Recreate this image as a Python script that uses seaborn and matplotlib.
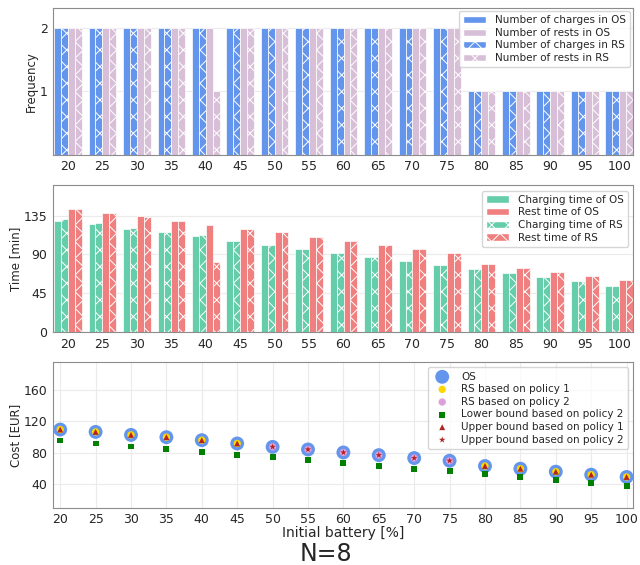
import matplotlib
matplotlib.use('Agg')
import matplotlib.pyplot as plt
from matplotlib.patches import Patch
import numpy as np
import pandas as pd
import seaborn as sns

battery = [20, 25, 30, 35, 40, 45, 50, 55, 60, 65, 70, 75, 80, 85, 90, 95, 100]

# frequency panel
charges_os = [2, 2, 2, 2, 2, 2, 2, 2, 2, 2, 2, 2, 1, 1, 1, 1, 1]
charges_rs = [2, 2, 2, 2, 2, 2, 2, 2, 2, 2, 2, 2, 1, 1, 1, 1, 1]
rests_os = [2, 2, 2, 2, 2, 2, 2, 2, 2, 2, 2, 2, 1, 1, 1, 1, 1]
rests_rs = [2, 2, 2, 2, 1, 2, 2, 2, 2, 2, 2, 2, 1, 1, 1, 1, 1]

# time panel [min]
charge_time_os = [129, 125, 120, 115.5, 111, 106, 101, 96.5, 92, 87, 82.5, 77.5, 73, 68.5, 64, 59, 54]
charge_time_rs = [130.5, 126, 121, 116.5, 112, 106, 101, 96.5, 92, 87, 82.5, 77.5, 73, 68.5, 64, 59, 54]
rest_time_os = [143, 138.5, 134, 129, 124.5, 120, 115.5, 110.5, 106, 101, 96.5, 92, 79.5, 74.5, 70, 65.5, 61]
rest_time_rs = [142.5, 138, 133.5, 128.5, 81, 120, 115.5, 110.5, 106, 101, 96.5, 92, 79.5, 74.5, 70, 65.5, 61]

# cost panel [EUR]
cost_os = [109.5, 106.5, 102.7, 99.8, 96, 91.8, 87.5, 84.2, 80.4, 77, 73.3, 69.9, 63.2, 59.8, 56, 52.2, 49.3]
cost_rs_p1 = [109.5, 106.5, 102.7, 99.8, 96, 91.8, np.nan, np.nan, np.nan, np.nan, np.nan, np.nan, 63.2, 59.8, 56, 52.2, 49.3]
cost_rs_p2 = [np.nan, np.nan, np.nan, np.nan, np.nan, np.nan, 87.5, 84.2, 80.4, 77, 73.3, 69.9, np.nan, np.nan, np.nan, np.nan, np.nan]
lower_p2 = [95.6, 91.8, 88, 84.6, 80.8, 77.4, 74.1, 70.4, 66.9, 63.5, 59.8, 56.5, 52.7, 49.3, 45.5, 42.1, 38.3]
upper_p1 = [109.5, 106.5, 102.7, 99.8, 96, 91.8, np.nan, np.nan, np.nan, np.nan, np.nan, np.nan, 63.2, 59.8, 56, 52.2, 49.3]
upper_p2 = [np.nan, np.nan, np.nan, np.nan, np.nan, np.nan, 87.5, 84.2, 80.4, 77, 73.3, 69.9, np.nan, np.nan, np.nan, np.nan, np.nan]

sns.set_style('whitegrid', {'axes.edgecolor': '0.55', 'grid.color': '0.92', 'axes.linewidth': 1.0})
plt.rcParams['font.family'] = ['DejaVu Sans']
plt.rcParams['hatch.linewidth'] = 0.7

fig = plt.figure(figsize=(6.4, 5.65), dpi=100)
ax1 = fig.add_axes([0.083, 0.726, 0.906, 0.260])
ax2 = fig.add_axes([0.083, 0.412, 0.906, 0.260])
ax3 = fig.add_axes([0.083, 0.101, 0.906, 0.258])

blue = '#6495ED'
pink = '#D8BFD8'
green = '#66CDAA'
red = '#F08080'


def grouped_bars(ax, series, names, colors, hatches):
    df = pd.concat([pd.DataFrame({'battery': battery, 'value': vals, 'series': name})
                    for vals, name in zip(series, names)])
    sns.barplot(data=df, x='battery', y='value', hue='series', hue_order=names,
                palette=colors, width=0.8, saturation=1, errorbar=None,
                legend=False, edgecolor='white', linewidth=0.5, ax=ax)
    for cont, h in zip(ax.containers, hatches):
        for p in cont.patches:
            if h:
                p.set_hatch(h)
    ax.set_xlim(-0.43, 16.4)
    ax.set_xlabel('')
    ax.tick_params(labelsize=9, pad=0.5)
    ax.set_axisbelow(True)


# 1. frequency
names1 = ['Number of charges in OS', 'Number of charges in RS', 'Number of rests in OS', 'Number of rests in RS']
grouped_bars(ax1, [charges_os, charges_rs, rests_os, rests_rs], names1,
             [blue, blue, pink, pink], [None, 'xx', None, 'xx'])
ax1.set_ylim(0, 2.32)
ax1.set_yticks([1, 2])
ax1.set_ylabel('Frequency', fontsize=8.5, labelpad=1)
h1 = [Patch(facecolor=blue, edgecolor='white', label=names1[0]),
      Patch(facecolor=pink, edgecolor='white', label=names1[2]),
      Patch(facecolor=blue, edgecolor='white', hatch='xx', label=names1[1]),
      Patch(facecolor=pink, edgecolor='white', hatch='xx', label=names1[3])]
ax1.legend(handles=h1, loc='upper right', fontsize=7.5, borderaxespad=0.3,
           handlelength=2.2, labelspacing=0.25, framealpha=0.8)

# 2. time
names2 = ['Charging time of OS', 'Charging time of RS', 'Rest time of OS', 'Rest time of RS']
grouped_bars(ax2, [charge_time_os, charge_time_rs, rest_time_os, rest_time_rs], names2,
             [green, green, red, red], [None, 'xx', None, 'xx'])
ax2.set_ylim(0, 170)
ax2.set_yticks([0, 45, 90, 135])
ax2.set_ylabel('Time [min]', fontsize=8.5, labelpad=1)
h2 = [Patch(facecolor=green, edgecolor='white', label=names2[0]),
      Patch(facecolor=red, edgecolor='white', label=names2[2]),
      Patch(facecolor=green, edgecolor='white', hatch='xx', label=names2[1]),
      Patch(facecolor=red, edgecolor='white', hatch='xx', label=names2[3])]
ax2.legend(handles=h2, loc='upper right', fontsize=7.5, borderaxespad=0.5,
           handlelength=2.2, labelspacing=0.25, framealpha=0.8)

# 3. cost
sns.scatterplot(x=battery, y=cost_os, s=100, color=blue, edgecolor='none', label='OS', ax=ax3, zorder=3)
sns.scatterplot(x=battery, y=cost_rs_p1, s=28, color='gold', edgecolor='none', label='RS based on policy 1', ax=ax3, zorder=4)
sns.scatterplot(x=battery, y=cost_rs_p2, s=28, color='plum', edgecolor='none', label='RS based on policy 2', ax=ax3, zorder=4)
sns.scatterplot(x=battery, y=lower_p2, s=18, marker='s', color='green', edgecolor='none', label='Lower bound based on policy 2', ax=ax3, zorder=4)
sns.scatterplot(x=battery, y=upper_p1, s=18, marker='^', color='firebrick', edgecolor='none', label='Upper bound based on policy 1', ax=ax3, zorder=5)
sns.scatterplot(x=battery, y=upper_p2, s=24, marker='*', color='firebrick', edgecolor='none', label='Upper bound based on policy 2', ax=ax3, zorder=5)
ax3.set_xlim(19.0, 100.9)
ax3.set_ylim(10, 195)
ax3.set_xticks(battery)
ax3.set_yticks([40, 80, 120, 160])
ax3.tick_params(labelsize=9, pad=0.5)
ax3.set_ylabel('Cost [EUR]', fontsize=8.5, labelpad=1)
ax3.set_xlabel('Initial battery [%]', fontsize=10, labelpad=0)
ax3.legend(loc='upper right', fontsize=7.5, borderaxespad=0.5, labelspacing=0.25, framealpha=0.8)

fig.text(0.51, 0.019, 'N=8', ha='center', va='center', fontsize=17)

fig.savefig('out.png', dpi=100)
